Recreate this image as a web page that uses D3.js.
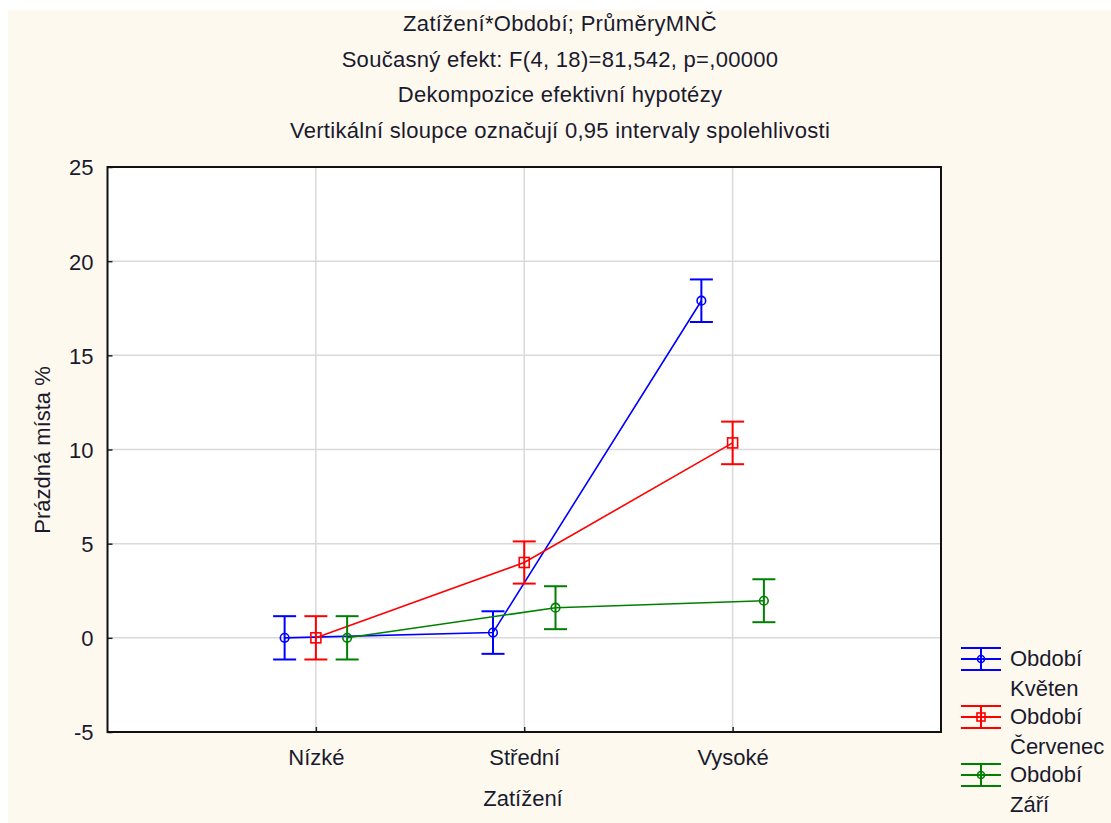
<!DOCTYPE html>
<html><head><meta charset="utf-8">
<script src="https://cdn.jsdelivr.net/npm/d3@7"></script>
<style>
html,body{margin:0;padding:0;background:#fff;}
svg text{font-family:"Liberation Sans",Arial,sans-serif;fill:#1a1a2e;}
</style></head>
<body>
<svg id="c" width="1111" height="823"></svg>
<script>
// ---- data ----
const categories = ["Nízké", "Střední", "Vysoké"];
const seriesNames = ["Květen", "Červenec", "Září"];
const seriesColors = ["#0000ff", "#ff0000", "#008000"];
const seriesMarkers = ["circle", "square", "circle"];
const kvetenMean = [0.0, 0.28, 17.9];
const kvetenCI = [1.15, 1.13, 1.13];
const cervenecMean = [0.0, 4.0, 10.35];
const cervenecCI = [1.15, 1.12, 1.13];
const zariMean = [0.0, 1.6, 1.97];
const zariCI = [1.15, 1.14, 1.14];
const yTicks = [-5, 0, 5, 10, 15, 20, 25];
const yTickLabels = ["-5", "0", "5", "10", "15", "20", "25"];
const titleLines = [
  "Zatížení*Období; PrůměryMNČ",
  "Současný efekt: F(4, 18)=81,542, p=,00000",
  "Dekompozice efektivní hypotézy",
  "Vertikální sloupce označují 0,95 intervaly spolehlivosti"
];
const xTitle = "Zatížení";
const yTitle = "Prázdná místa %";
const legendPrefix = "Období";

const means = [kvetenMean, cervenecMean, zariMean];
const cis = [kvetenCI, cervenecCI, zariCI];
const offsets = [-0.15, 0, 0.15];

// ---- layout ----
const svg = d3.select("#c");
const W = 1111, H = 823;
const L = 107.5, T = 167, R = 941, B = 732;

svg.append("rect").attr("x", 8).attr("y", 10).attr("width", W - 8).attr("height", H - 10).attr("fill", "#fef9ee");

const x = d3.scaleLinear().domain([0, categories.length + 1]).range([L, R]);
const y = d3.scaleLinear().domain([-5, 25]).range([B, T]);

svg.append("rect").attr("x", L).attr("y", T).attr("width", R - L).attr("height", B - T).attr("fill", "#fff");

// grid
const g = svg.append("g");
g.selectAll("line.hg").data(yTicks.filter(d => d > -5 && d < 25)).enter().append("line")
  .attr("x1", L).attr("x2", R).attr("y1", d => y(d)).attr("y2", d => y(d))
  .attr("stroke", "#d9d9d9").attr("stroke-width", 1.5);
g.selectAll("line.vg").data(categories).enter().append("line")
  .attr("x1", (d, i) => x(i + 1)).attr("x2", (d, i) => x(i + 1)).attr("y1", T).attr("y2", B)
  .attr("stroke", "#d9d9d9").attr("stroke-width", 1.5);

// axes
const yAxis = d3.axisLeft(y).tickValues(yTicks).tickSize(-5).tickPadding(14)
  .tickFormat(d => yTickLabels[yTicks.indexOf(d)]);
const ya = svg.append("g").attr("transform", `translate(${L},0)`).call(yAxis);
ya.select(".domain").remove();
ya.selectAll(".tick line").attr("stroke", "#222").attr("stroke-width", 1.5);
ya.selectAll(".tick text").attr("font-size", 22).attr("fill", "#1a1a2e").attr("dy", "0.36em").attr("x", -14);

const xAxis = d3.axisBottom(x).tickValues(categories.map((d, i) => i + 1)).tickSize(-5).tickPadding(12)
  .tickFormat((d) => categories[d - 1]);
const xa = svg.append("g").attr("transform", `translate(0,${B})`).call(xAxis);
xa.select(".domain").remove();
xa.selectAll(".tick line").attr("stroke", "#222").attr("stroke-width", 1.5);
xa.selectAll(".tick text").attr("font-size", 22).attr("fill", "#1a1a2e").attr("dy", "0").attr("y", 33);

// frame
svg.append("rect").attr("x", L).attr("y", T).attr("width", R - L).attr("height", B - T)
  .attr("fill", "none").attr("stroke", "#111").attr("stroke-width", 2);

// series
const lineGen = d3.line().x(d => x(d.x)).y(d => y(d.y));
means.forEach((m, s) => {
  const pts = m.map((v, i) => ({ x: i + 1 + offsets[s], y: v, ci: cis[s][i] }));
  const col = seriesColors[s];
  const sg = svg.append("g");
  sg.append("path").attr("d", lineGen(pts)).attr("fill", "none").attr("stroke", col).attr("stroke-width", 1.6);
  pts.forEach(p => {
    const cx = x(p.x), y1 = y(p.y + p.ci), y2 = y(p.y - p.ci);
    sg.append("line").attr("x1", cx).attr("x2", cx).attr("y1", y1).attr("y2", y2).attr("stroke", col).attr("stroke-width", 2);
    [y1, y2].forEach(yy => sg.append("line").attr("x1", cx - 11.5).attr("x2", cx + 11.5).attr("y1", yy).attr("y2", yy)
      .attr("stroke", col).attr("stroke-width", 2));
    if (seriesMarkers[s] === "square") {
      sg.append("rect").attr("x", cx - 5).attr("y", y(p.y) - 5).attr("width", 10).attr("height", 10)
        .attr("fill", "none").attr("stroke", col).attr("stroke-width", 1.6);
    } else {
      sg.append("circle").attr("cx", cx).attr("cy", y(p.y)).attr("r", 4.3)
        .attr("fill", "none").attr("stroke", col).attr("stroke-width", 1.6);
    }
  });
});

// titles
svg.selectAll("text.title").data(titleLines).enter().append("text")
  .attr("x", 560).attr("y", (d, i) => 31 + i * 35.5).attr("text-anchor", "middle")
  .attr("font-size", 22).attr("letter-spacing", 0.3).text(d => d);

svg.append("text").attr("x", 523).attr("y", 806).attr("text-anchor", "middle").attr("font-size", 22).text(xTitle);
svg.append("text").attr("transform", "translate(50,450) rotate(-90)").attr("text-anchor", "middle")
  .attr("font-size", 22).text(yTitle);

// legend
const lg = svg.append("g");
seriesNames.forEach((name, s) => {
  const cy = 659 + s * 58;
  const col = seriesColors[s];
  const x0 = 961, x1 = 1001, xm = 981;
  [cy - 11, cy, cy + 11].forEach(yy => lg.append("line").attr("x1", x0).attr("x2", x1).attr("y1", yy).attr("y2", yy)
    .attr("stroke", col).attr("stroke-width", 2));
  lg.append("line").attr("x1", xm).attr("x2", xm).attr("y1", cy - 11).attr("y2", cy + 11).attr("stroke", col).attr("stroke-width", 2);
  if (seriesMarkers[s] === "square") {
    lg.append("rect").attr("x", xm - 4).attr("y", cy - 4).attr("width", 8).attr("height", 8)
      .attr("fill", "none").attr("stroke", col).attr("stroke-width", 1.6);
  } else {
    lg.append("circle").attr("cx", xm).attr("cy", cy).attr("r", 3.5).attr("fill", "none").attr("stroke", col).attr("stroke-width", 1.6);
  }
  lg.append("text").attr("x", 1010).attr("y", cy + 7).attr("font-size", 22).text(legendPrefix);
  lg.append("text").attr("x", 1010).attr("y", cy + 37).attr("font-size", 22).text(name);
});
</script>
</body></html>
